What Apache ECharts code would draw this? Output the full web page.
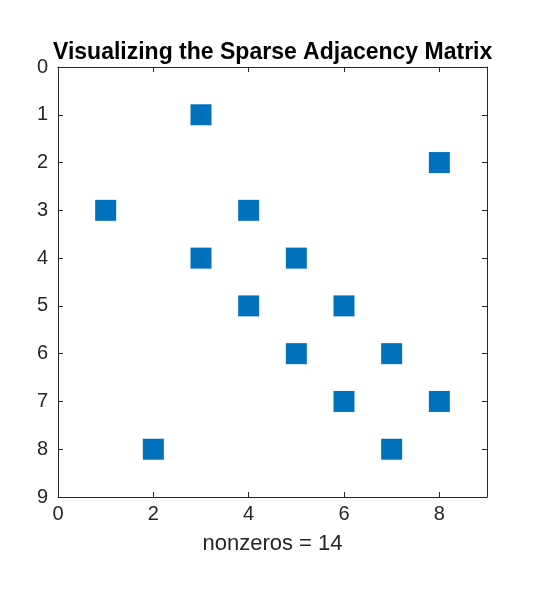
<!DOCTYPE html>
<html><head><meta charset="utf-8">
<script src="https://cdn.jsdelivr.net/npm/echarts@6/dist/echarts.min.js"></script>
<style>html,body{margin:0;padding:0;background:#fff}#c{width:555px;height:594px}</style>
</head><body><div id="c"></div>
<script>
const colIdx = [3, 8, 1, 4, 3, 5, 4, 6, 5, 7, 6, 8, 2, 7];
const rowIdx = [1, 2, 3, 3, 4, 4, 5, 5, 6, 6, 7, 7, 8, 8];
const titleText = 'Visualizing the Sparse Adjacency Matrix';
const xLabel = 'nonzeros = 14';
const data = colIdx.map((c, i) => [c, rowIdx[i]]);
const font = 'Liberation Sans, Arial, sans-serif';
function ax() {
  return {
    axisLine: {show: true, onZero: false, lineStyle: {color: '#262626', width: 1}},
    axisTick: {show: true, inside: true, length: 5, lineStyle: {color: '#262626'}},
    splitLine: {show: false}
  };
}
const chart = echarts.init(document.getElementById('c'));
chart.setOption({
  animation: false,
  title: {text: titleText, left: 53, top: 41, padding: 0, textStyle: {fontFamily: font, fontSize: 23, fontWeight: 'bold', color: '#000'}},
  grid: {left: 58, right: 68, top: 67, bottom: 97},
  xAxis: [
    Object.assign(ax(), {type: 'value', min: 0, max: 9, interval: 2, position: 'bottom',
      name: xLabel, nameLocation: 'middle', nameGap: 36,
      nameTextStyle: {fontFamily: font, fontSize: 22, color: '#262626'},
      axisLabel: {fontFamily: font, fontSize: 20, color: '#262626', margin: 7, showMaxLabel: false}}),
    Object.assign(ax(), {type: 'value', min: 0, max: 9, interval: 2, position: 'top',
      axisLabel: {show: false}})
  ],
  yAxis: [
    Object.assign(ax(), {type: 'value', min: 0, max: 9, interval: 1, inverse: true, position: 'left',
      axisLabel: {fontFamily: font, fontSize: 20, color: '#262626', margin: 10}}),
    Object.assign(ax(), {type: 'value', min: 0, max: 9, interval: 1, inverse: true, position: 'right',
      axisLabel: {show: false}})
  ],
  series: [{
    type: 'scatter', data: data, symbol: 'rect', symbolSize: 21,
    itemStyle: {color: '#0072BD', opacity: 1}
  }]
});
</script></body></html>
